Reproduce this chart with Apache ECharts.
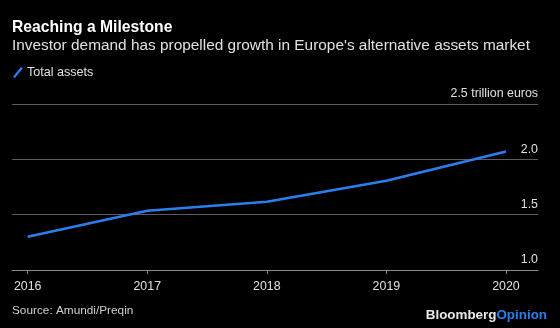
<!DOCTYPE html>
<html>
<head>
<meta charset="utf-8">
<script src="https://cdn.jsdelivr.net/npm/echarts@6/dist/echarts.min.js"></script>
<style>
html,body{margin:0;padding:0;background:#000;}
#c{width:560px;height:328px;}
</style>
</head>
<body>
<div id="c"></div>
<script>
const years = [2016, 2017, 2018, 2019, 2020];
const totalAssets = [1.30, 1.535, 1.617, 1.807, 2.07];
const yTicks = [1.0, 1.5, 2.0, 2.5];
const seriesName = 'Total assets';

const chart = echarts.init(document.getElementById('c'));
const FONT = 'Liberation Sans, Arial, sans-serif';
chart.setOption({
  backgroundColor: '#000',
  animation: false,
  title: [
    {text: 'Reaching a Milestone', left: 7, top: 15, padding: 5,
     textStyle: {color: '#fff', fontSize: 15.7, fontWeight: 'bold', fontFamily: FONT}},
    {text: "Investor demand has propelled growth in Europe's alternative assets market", left: 7, top: 33, padding: 5,
     textStyle: {color: '#e0e0e0', fontSize: 15.4, fontWeight: 'normal', fontFamily: FONT}}
  ],
  legend: {
    left: 8, top: 61,
    icon: 'path://M0,10 L8,0 L10,1.2 L2,11.2 Z',
    itemWidth: 10, itemHeight: 11, itemGap: 6,
    textStyle: {color: '#e0e0e0', fontSize: 12.6, fontFamily: FONT, padding: [0,0,0,-1]},
    data: [seriesName]
  },
  grid: {left: 12, right: 22, top: 104, bottom: 58, containLabel: false},
  xAxis: {
    type: 'value',
    min: 2015.869, max: 2020.268,
    axisLine: {show: true, lineStyle: {color: '#8a8a8a', width: 1}},
    axisTick: {show: true, customValues: years, length: 4, lineStyle: {color: '#8a8a8a'}},
    axisLabel: {customValues: years, color: '#e0e0e0', fontSize: 12.4, fontFamily: FONT, margin: 11,
      formatter: v => String(v)},
    splitLine: {show: false}
  },
  yAxis: {
    type: 'value', position: 'right',
    min: yTicks[0], max: yTicks[yTicks.length-1], interval: 0.5,
    axisLine: {show: false}, axisTick: {show: false},
    splitLine: {lineStyle: {color: '#5c5c5c', width: 1}},
    axisLabel: {
      inside: true, margin: 0, verticalAlign: 'bottom', padding: [0,0,4,0],
      color: '#e0e0e0', fontSize: 12.4, fontFamily: FONT,
      formatter: v => v === 2.5 ? '2.5 trillion euros' : v.toFixed(1)
    }
  },
  series: [{
    name: seriesName, type: 'line',
    data: years.map((y, i) => [y, totalAssets[i]]),
    showSymbol: false, symbol: 'none',
    lineStyle: {color: '#2a7ef0', width: 2.5},
    itemStyle: {color: '#2a7ef0'}
  }],
  graphic: [
    {type: 'text', left: 12, top: 305,
     style: {text: 'Source: Amundi/Preqin', fill: '#d0d0d0', font: '11.8px ' + FONT}},
    {type: 'text', right: 13, top: 309,
     style: {text: '{a|Bloomberg}{b|Opinion}',
       rich: {a: {fill: '#e8e8e8', fontWeight: 'bold', fontSize: 13.4, fontFamily: FONT},
              b: {fill: '#2a7ef0', fontWeight: 'bold', fontSize: 13.4, fontFamily: FONT}}}}
  ]
});
</script>
</body>
</html>
